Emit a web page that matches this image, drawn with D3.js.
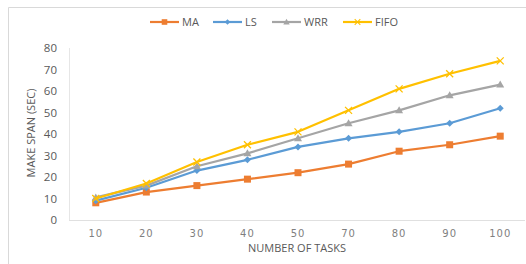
<!DOCTYPE html>
<html>
<head>
<meta charset="utf-8">
<script src="https://cdn.jsdelivr.net/npm/d3@7"></script>
<style>
  body { margin: 0; background: #fff; }
  text { font-family: "Open Sans", "DejaVu Sans", sans-serif; fill: #595959; }
</style>
</head>
<body>
<svg class="chart" width="526" height="264"></svg>
<script>
// values
var tasks = ["10", "20", "30", "40", "50", "70", "80", "90", "100"];
var ma   = [8, 13, 16, 19, 22, 26, 32, 35, 39];
var ls   = [9, 15, 23, 28, 34, 38, 41, 45, 52];
var wrr  = [10.5, 16, 25, 31, 38, 45, 51, 58, 63];
var fifo = [10, 17, 27, 35, 41, 51, 61, 68, 74];
var yTicks = [0, 10, 20, 30, 40, 50, 60, 70, 80];

var seriesNames = ["MA", "LS", "WRR", "FIFO"];
var seriesColors = ["#ED7D31", "#5B9BD5", "#A5A5A5", "#FFC000"];
var seriesMarkers = ["square", "diamond", "triangle", "cross"];

(function(){
    var svg = d3.select("svg.chart");

    // chart frame (left + top edge of the pasted chart)
    svg.append("path")
        .attr("d", "M8.5,264V7.5H526")
        .attr("fill", "none")
        .attr("stroke", "#d9d9d9");

    var x = d3.scaleBand().domain(tasks).range([70.5, 525.5]);
    var y = d3.scaleLinear().domain([0, 80]).range([220, 48]);

    // axes
    svg.append("line")
        .attr("x1", 69.5).attr("x2", 69.5)
        .attr("y1", y(80)).attr("y2", y(0))
        .attr("stroke", "#e6e6e6");
    svg.append("line")
        .attr("x1", 69).attr("x2", 525)
        .attr("y1", y(0) + 0.5).attr("y2", y(0) + 0.5)
        .attr("stroke", "#e0e0e0");

    svg.append("g").selectAll("text")
        .data(yTicks)
        .enter().append("text")
        .attr("x", 57)
        .attr("y", function(d) { return y(d); })
        .attr("dy", "0.35em")
        .attr("text-anchor", "end")
        .style("font-size", "11.5px")
        .text(function(d) { return d; });

    svg.append("g").selectAll("text")
        .data(tasks)
        .enter().append("text")
        .attr("x", function(d) { return x(d) + x.bandwidth() / 2; })
        .attr("y", 237)
        .attr("text-anchor", "middle")
        .style("font-family", "DejaVu Sans")
        .style("font-size", "10px")
        .style("letter-spacing", "1px")
        .style("fill", "#7f7f7f")
        .text(function(d) { return d; });

    svg.append("text")
        .attr("x", 297).attr("y", 252)
        .attr("text-anchor", "middle")
        .style("font-size", "11px")
        .text("NUMBER OF TASKS");

    svg.append("text")
        .attr("transform", "translate(35,133) rotate(-90)")
        .attr("text-anchor", "middle")
        .style("font-size", "11px")
        .text("MAKE SPAN (SEC)");

    var data = [ma, ls, wrr, fifo];
    var line = d3.line()
        .x(function(d, i) { return x(tasks[i]) + x.bandwidth() / 2; })
        .y(function(d) { return y(d); });

    function marker(sel, kind, color) {
        if (kind === "square") {
            sel.append("rect").attr("x", -3.5).attr("y", -3.5)
                .attr("width", 7).attr("height", 7).attr("fill", color);
        } else if (kind === "diamond") {
            sel.append("path").attr("d", "M0,-3.5L3.5,0L0,3.5L-3.5,0Z").attr("fill", color);
        } else if (kind === "triangle") {
            sel.append("path").attr("d", "M0,-4L4,3L-4,3Z").attr("fill", color);
        } else {
            sel.append("path").attr("d", "M-3.5,-3.5L3.5,3.5M-3.5,3.5L3.5,-3.5")
                .attr("stroke", color).attr("stroke-width", 1.3);
        }
    }

    data.forEach(function(vals, k) {
        var g = svg.append("g").attr("class", "series-" + seriesNames[k]);
        g.append("path")
            .attr("d", line(vals))
            .attr("fill", "none")
            .attr("stroke", seriesColors[k])
            .attr("stroke-width", 2.2)
            .attr("stroke-linejoin", "round");
        g.selectAll("g.pt")
            .data(vals)
            .enter().append("g")
            .attr("class", "pt")
            .attr("transform", function(d, i) {
                return "translate(" + (x(tasks[i]) + x.bandwidth() / 2) + "," + y(d) + ")";
            })
            .each(function() { marker(d3.select(this), seriesMarkers[k], seriesColors[k]); });
    });

    // legend
    var legendX = [150, 213, 272, 343];
    var legend = svg.append("g").selectAll("g")
        .data(seriesNames)
        .enter().append("g")
        .attr("transform", function(d, i) { return "translate(" + legendX[i] + ",22)"; });
    legend.append("line")
        .attr("x1", 0).attr("x2", 29)
        .attr("stroke", function(d, i) { return seriesColors[i]; })
        .attr("stroke-width", 2.2);
    legend.each(function(d, i) {
        var m = d3.select(this).append("g").attr("transform", "translate(14.5,0) scale(0.8)");
        marker(m, seriesMarkers[i], seriesColors[i]);
    });
    legend.append("text")
        .attr("x", 32)
        .attr("dy", "0.35em")
        .style("font-size", "11px")
        .text(function(d) { return d; });
})();
</script>
</body>
</html>
